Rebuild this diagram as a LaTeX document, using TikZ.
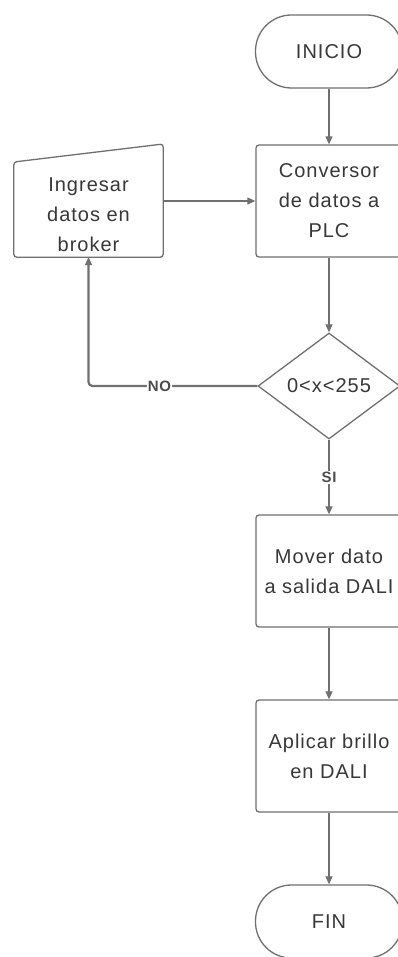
\documentclass[tikz,border=0pt]{standalone}
\usepackage{fontspec}
\setmainfont{Liberation Sans}[LetterSpace=5.0]
\usetikzlibrary{arrows.meta,shapes.geometric}
\definecolor{linec}{HTML}{707070}
\definecolor{textc}{HTML}{383838}
\begin{document}
\begin{tikzpicture}[x=1pt,y=-1pt,
  box/.style={draw=linec, line width=1.3pt, rounded corners=3pt, minimum width=146pt, minimum height=112pt, align=center, text=textc, font=\fontsize{20}{30}\selectfont, inner sep=0pt},
  term/.style={box, rounded corners=36pt, minimum height=73pt, minimum width=147pt},
  dia/.style={draw=linec, line width=1.3pt, diamond, aspect=1.34, minimum width=142pt, minimum height=106pt, inner sep=0pt, text=textc, font=\fontsize{20}{30}\selectfont},
  plain/.style={align=center, text=textc, font=\fontsize{20}{30}\selectfont, inner sep=0pt},
  shapeline/.style={draw=linec, line width=1.3pt, rounded corners=3pt},
  arr/.style={draw=linec, line width=1.2pt, -{Triangle[length=8pt,width=7pt]}},
  lbl/.style={fill=white, font=\fontsize{15}{15}\selectfont\bfseries, text=textc!90!white, inner sep=1pt}]
\useasboundingbox (0,0) rectangle (398,957);
\fill[white] (0,0) rectangle (398,957);
\node[term] (ini) at (329,51.5) {INICIO};
\node[box] (conv) at (329,201) {Conversor\\de datos a\\PLC};
\node[dia] (dec) at (329,386) {0<x<255};
\node[box] (mov) at (329,571) {Mover dato\\a salida DALI};
\node[box] (apl) at (329,756) {Aplicar brillo\\en DALI};
\node[term] (fin) at (329,921.5) {FIN};
\node[plain, minimum width=149pt, minimum height=84pt] (ing) at (88.5,215) {Ingresar\\datos en\\broker};
\coordinate (ingtr) at (163,144);
\coordinate (ingtl) at (14,162);
\draw[shapeline] (ing.south west) -- (ing.south east) -- (ing.south east |- ingtr) -- (ing.south west |- ingtl) -- cycle;
\draw[arr] (ini) -- (conv);
\draw[arr] (ing.east |- conv.west) -- (conv.west);
\draw[arr] (conv) -- (dec);
\draw[arr, line width=2.2pt, rounded corners=4pt] (dec.west) -- node[lbl, pos=0.58] (no) {NO} (ing.south |- dec.west) -- (ing.south);
\draw[arr] (dec.south) -- node[lbl, pos=0.51] (si) {SI} (mov.north);
\draw[arr] (mov) -- (apl);
\draw[arr] (apl) -- (fin);
\end{tikzpicture}
\end{document}
